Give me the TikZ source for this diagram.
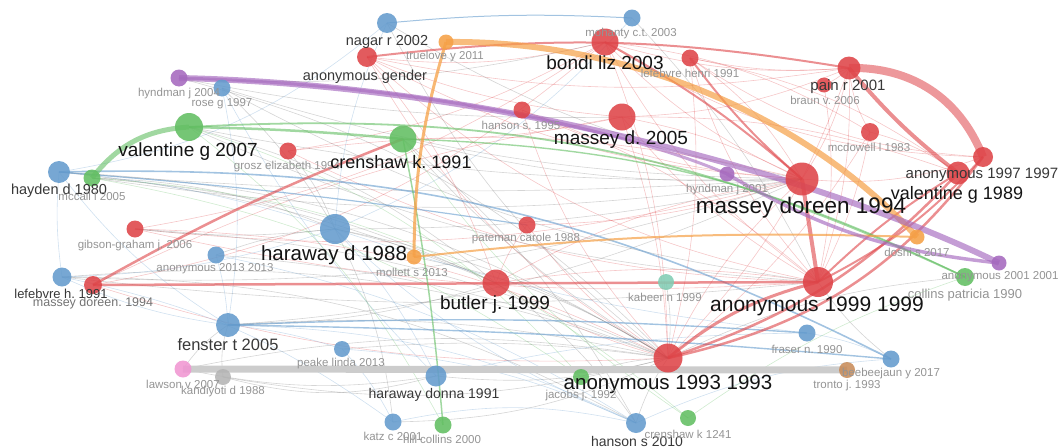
\documentclass[tikz,border=0pt]{standalone}
\usepackage{fontspec}
\setmainfont{Liberation Sans}
\frenchspacing
\definecolor{vred}{RGB}{222,68,72}
\definecolor{vblue}{RGB}{100,155,205}
\definecolor{vgreen}{RGB}{98,190,98}
\definecolor{vpurple}{RGB}{165,105,190}
\definecolor{vorange}{RGB}{245,160,70}
\definecolor{vteal}{RGB}{130,205,180}
\definecolor{vpink}{RGB}{240,150,210}
\definecolor{vgrey}{RGB}{180,180,180}
\definecolor{vbrown}{RGB}{200,140,90}
\pgfdeclarelayer{edges}
\pgfsetlayers{edges,main}
\begin{document}
\begin{tikzpicture}[x=1pt,y=-1pt,line cap=round,line join=round,
  vn/.style={circle,inner sep=0pt,fill=#1,fill opacity=.88,draw=none},
  big/.style={font=\fontsize{19}{21}\selectfont,text=black!92},
  mid/.style={font=\fontsize{14.5}{16}\selectfont,text=black!78},
  small/.style={font=\fontsize{11.5}{13}\selectfont,text=black!42},
  faint/.style={line width=.6pt,draw opacity=.3},
  link/.style={draw opacity=.6}]
\useasboundingbox (0,0) rectangle (1060,447);
% red cluster
\node[vn=vred,minimum size=20] (anongender) at (367,57) {};
\node[vn=vred,minimum size=27] (bondi03) at (605,42) {};
\node[vn=vred,minimum size=17] (lefebvreHe) at (690,58) {};
\node[vn=vred,minimum size=23] (pain01) at (849,68) {};
\node[vn=vred,minimum size=15] (braun06) at (824,85) {};
\node[vn=vred,minimum size=17] (hanson95) at (522,110) {};
\node[vn=vred,minimum size=27] (massey05) at (622,117) {};
\node[vn=vred,minimum size=18] (mcdowell83) at (870,132) {};
\node[vn=vred,minimum size=17] (grosz94) at (288,151) {};
\node[vn=vred,minimum size=33] (massey94) at (802,179) {};
\node[vn=vred,minimum size=20] (anon97) at (983,157) {};
\node[vn=vred,minimum size=23] (val89) at (958,173) {};
\node[vn=vred,minimum size=17] (pateman88) at (527,225) {};
\node[vn=vred,minimum size=17] (gibson06) at (135,229) {};
\node[vn=vred,minimum size=27] (butler99) at (496,283) {};
\node[vn=vred,minimum size=30] (anon99) at (818,282) {};
\node[vn=vred,minimum size=18] (masseyb94) at (93,285) {};
\node[vn=vred,minimum size=29] (anon93) at (668,358) {};
% blue cluster
\node[vn=vblue,minimum size=20] (nagar02) at (387,23) {};
\node[vn=vblue,minimum size=17] (mohanty03) at (632,18) {};
\node[vn=vblue,minimum size=17] (rose97) at (222,88) {};
\node[vn=vblue,minimum size=22] (hayden80) at (59,172) {};
\node[vn=vblue,minimum size=30] (haraway88) at (335,229) {};
\node[vn=vblue,minimum size=17] (anon13) at (216,255) {};
\node[vn=vblue,minimum size=19] (lefebvre91) at (62,277) {};
\node[vn=vblue,minimum size=24] (fenster05) at (228,325) {};
\node[vn=vblue,minimum size=16] (peake13) at (342,349) {};
\node[vn=vblue,minimum size=21] (haraway91) at (436,376) {};
\node[vn=vblue,minimum size=17] (katz01) at (393,422) {};
\node[vn=vblue,minimum size=20] (hanson10) at (636,423) {};
\node[vn=vblue,minimum size=17] (fraser90) at (807,333) {};
\node[vn=vblue,minimum size=17] (beebee17) at (891,359) {};
% green cluster
\node[vn=vgreen,minimum size=28] (valentine07) at (189,127) {};
\node[vn=vgreen,minimum size=27] (crenshaw91) at (403,139) {};
\node[vn=vgreen,minimum size=17] (mccall05) at (92,178) {};
\node[vn=vgreen,minimum size=18] (collins90) at (965,277) {};
\node[vn=vgreen,minimum size=16] (jacobs92) at (581,377) {};
\node[vn=vgreen,minimum size=17] (hillcollins00) at (443,425) {};
\node[vn=vgreen,minimum size=16] (crenshaw1241) at (688,418) {};
% small clusters
\node[vn=vpurple,minimum size=17] (hyndman04) at (179,78) {};
\node[vn=vpurple,minimum size=15] (hyndman01) at (727,174) {};
\node[vn=vpurple,minimum size=15] (anon01) at (999,263) {};
\node[vn=vorange,minimum size=15] (truelove11) at (446,42) {};
\node[vn=vorange,minimum size=15] (mollett13) at (414,257) {};
\node[vn=vorange,minimum size=15] (doshi17) at (917,237) {};
\node[vn=vteal,minimum size=16] (kabeer99) at (666,282) {};
\node[vn=vpink,minimum size=17] (lawson07) at (183,369) {};
\node[vn=vgrey,minimum size=16] (kandiyoti88) at (223,377) {};
\node[vn=vbrown,minimum size=16] (tronto93) at (847,370) {};
% labels
\node[small] (hyndman04-l) at (179,94) {hyndman j 2004};
\node[small] (rose97-l) at (222,104) {rose g 1997};
\node[big] (valentine07-l) at (188,152) {valentine g 2007};
\node[mid] (nagar02-l) at (387,42) {nagar r 2002};
\node[mid] (anongender-l) at (365,77) {anonymous gender};
\node[small] (truelove11-l) at (445,57) {truelove y 2011};
\node[small] (mohanty03-l) at (631,34) {mohanty c.t. 2003};
\node[big] (bondi03-l) at (605,63) {bondi liz 2003};
\node[small] (lefebvreHe-l) at (690,73) {lefebvre henri 1991};
\node[mid,font=\fontsize{15}{17}\selectfont] (pain01-l) at (848,87) {pain r 2001};
\node[small] (braun06-l) at (825,100) {braun v. 2006};
\node[small] (hanson95-l) at (521,125) {hanson s. 1995};
\node[big] (massey05-l) at (621,140) {massey d. 2005};
\node[small] (mcdowell83-l) at (869,147) {mcdowell l 1983};
\node[small] (grosz94-l) at (287,167) {grosz elizabeth 1994};
\node[big,font=\fontsize{18}{20}\selectfont] (crenshaw91-l) at (401,162) {crenshaw k. 1991};
\node[mid] (hayden80-l) at (59,191) {hayden d 1980};
\node[small] (mccall05-l) at (92,196) {mccall l 2005};
\node[small] (hyndman01-l) at (727,190) {hyndman j 2001};
\node[big,font=\fontsize{22.5}{25}\selectfont] (massey94-l) at (801,208) {massey doreen 1994};
\node[mid,font=\fontsize{15}{17}\selectfont] (anon97-l) at (982,175) {anonymous 1997 1997};
\node[big,font=\fontsize{18}{20}\selectfont] (val89-l) at (957,195) {valentine g 1989};
\node[small] (pateman88-l) at (526,239) {pateman carole 1988};
\node[small] (gibson06-l) at (135,246) {gibson-graham j. 2006};
\node[big,font=\fontsize{20.5}{23}\selectfont] (haraway88-l) at (334,255) {haraway d 1988};
\node[small] (anon13-l) at (215,269) {anonymous 2013 2013};
\node[small] (mollett13-l) at (412,272) {mollett s 2013};
\node[small] (doshi17-l) at (917,252) {doshi s 2017};
\node[small] (anon01-l) at (1000,277) {anonymous 2001 2001};
\node[small,font=\fontsize{13}{15}\selectfont] (collins90-l) at (965,295) {collins patricia 1990};
\node[small] (kabeer99-l) at (665,297) {kabeer n 1999};
\node[big] (butler99-l) at (495,305) {butler j. 1999};
\node[big,font=\fontsize{21}{23}\selectfont] (anon99-l) at (817,306) {anonymous 1999 1999};
\node[mid,font=\fontsize{13}{15}\selectfont] (lefebvre91-l) at (61,294) {lefebvre h. 1991};
\node[small,font=\fontsize{12.5}{14}\selectfont,text=black!55] (masseyb94-l) at (93,303) {massey doreen. 1994};
\node[mid,font=\fontsize{16.5}{18}\selectfont] (fenster05-l) at (228,345) {fenster t 2005};
\node[small] (peake13-l) at (341,364) {peake linda 2013};
\node[small] (lawson07-l) at (183,384) {lawson v 2007};
\node[small] (kandiyoti88-l) at (223,392) {kandiyoti d 1988};
\node[mid,font=\fontsize{14}{16}\selectfont] (haraway91-l) at (434,395) {haraway donna 1991};
\node[big,font=\fontsize{20.5}{23}\selectfont] (anon93-l) at (668,384) {anonymous 1993 1993};
\node[small] (jacobs92-l) at (581,396) {jacobs j. 1992};
\node[small] (fraser90-l) at (807,349) {fraser n. 1990};
\node[small] (beebee17-l) at (891,374) {beebeejaun y 2017};
\node[small] (tronto93-l) at (847,386) {tronto j. 1993};
\node[small] (katz01-l) at (393,436) {katz c 2001};
\node[small] (hillcollins00-l) at (442,439) {hill collins 2000};
\node[mid,font=\fontsize{14}{16}\selectfont] (hanson10-l) at (637,441) {hanson s 2010};
\node[small] (crenshaw1241-l) at (688,434) {crenshaw k 1241};
\begin{pgfonlayer}{edges}
% faint links
\foreach \a/\b/\c in {anon93/bondi03/-10,anon93/massey05/-8,anon93/massey94/10,anon93/butler99/8,
  anon93/pain01/-12,anon93/lefebvreHe/-10,anon93/hanson95/12,anon93/pateman88/10,anon93/mcdowell83/-10,
  anon93/gibson06/-12,anon93/anongender/15,anon99/bondi03/12,anon99/massey05/10,anon99/pain01/-10,
  anon99/butler99/-8,anon99/lefebvreHe/12,anon99/mcdowell83/-8,anon99/braun06/-10,anon99/anongender/15,
  massey94/bondi03/10,massey94/massey05/-8,massey94/pain01/-10,massey94/anon97/-12,massey94/hanson95/10,
  massey94/butler99/-10,massey94/anongender/12,bondi03/pain01/-10,bondi03/anon97/-15,bondi03/mcdowell83/12,
  bondi03/anongender/10,lefebvreHe/pain01/-8,lefebvreHe/anon97/-15,lefebvreHe/val89/12,pain01/braun06/10,
  pain01/mcdowell83/-12,massey05/pain01/-10,massey05/val89/10,anongender/massey05/-8,anongender/pain01/-10,
  gibson06/massey94/-10,grosz94/anon99/-12,butler99/pateman88/8,masseyb94/anon93/-10,masseyb94/bondi03/-15,
  anongender/butler99/10,hanson95/anon99/10,mcdowell83/val89/10,grosz94/massey94/10,gibson06/anon99/-8,
  lefebvreHe/massey94/12,pateman88/massey94/-8,grosz94/bondi03/-10,crenshaw91/massey05/-6,
  masseyb94/massey05/8,gibson06/bondi03/-12}
  \draw[faint,vred] (\a.center) to[bend left=\c] (\b.center);
\foreach \a/\b/\c in {valentine07/massey94/-6,valentine07/anon99/-10,crenshaw91/massey94/-8,haraway88/anon93/10,
  haraway88/massey94/-6,haraway88/butler99/6,hayden80/massey94/-4,rose97/haraway88/8,hyndman04/massey05/-6,
  fenster05/anon93/8,lefebvre91/massey94/-10,lefebvre91/anon99/-6,haraway91/anon93/-10,hanson10/anon93/8,
  hanson10/butler99/-10,katz01/anon93/-12,jacobs92/anon93/10,kabeer99/anon93/8,collins90/anon93/-10,
  beebee17/anon99/8,lawson07/fenster05/10,kandiyoti88/haraway91/-15,peake13/anon93/6,mollett13/anon93/10,
  anon13/haraway88/8,gibson06/haraway88/-6,mccall05/haraway88/10,valentine07/butler99/12,crenshaw91/anon93/-8,
  crenshaw91/hanson10/10,nagar02/anon93/-12,mohanty03/anon99/8,hayden80/anon93/14,rose97/anon99/-10,
  mccall05/massey94/-8,kandiyoti88/anon93/-12,lawson07/haraway91/-10,hyndman04/anon93/15,
  lefebvre91/anon93/12,hayden80/butler99/8,fenster05/massey94/-10,lawson07/anon93/10,kandiyoti88/fenster05/12,
  gibson06/anon93/10,anon13/anon93/8,katz01/haraway88/-10,mccall05/butler99/10,rose97/massey94/-8,
  hyndman04/bondi03/-8,nagar02/massey94/-10,grosz94/haraway88/10,lefebvre91/hanson10/14,fenster05/butler99/-8}
  \draw[faint,black!55] (\a.center) to[bend left=\c] (\b.center);
\foreach \a/\b/\c in {hayden80/lefebvre91/-6,hayden80/fenster05/-10,rose97/fenster05/10,rose97/haraway91/-8,
  lefebvre91/fenster05/-8,lefebvre91/katz01/12,haraway88/haraway91/8,haraway88/hanson10/-10,fenster05/peake13/6,
  fenster05/hanson10/12,peake13/hanson10/10,katz01/peake13/-8,anon13/fenster05/6,anon13/hanson10/10,
  nagar02/haraway88/-10,mohanty03/haraway88/12,hanson10/beebee17/10,fraser90/beebee17/8,haraway91/fraser90/6,
  haraway88/fraser90/-6,lefebvre91/haraway88/-8,hayden80/haraway88/6,katz01/hanson10/12,nagar02/hayden80/15}
  \draw[faint,vblue] (\a.center) to[bend left=\c] (\b.center);
\foreach \a/\b/\c in {mccall05/crenshaw1241/18,crenshaw1241/collins90/8,valentine07/jacobs92/15,
  crenshaw91/crenshaw1241/-10,mccall05/jacobs92/12,valentine07/hillcollins00/12}
  \draw[faint,vgreen] (\a.center) to[bend left=\c] (\b.center);
% strong links
\draw[link,vblue,line width=1] (nagar02.center) to[bend left=4] (mohanty03.center);
\draw[link,vblue,line width=1.6] (hayden80.center) to[bend left=14] (beebee17.center);
\draw[link,vblue,line width=1.4] (fenster05.center) to[bend left=3] (fraser90.center);
\draw[link,vblue,line width=1.4] (fenster05.center) to[bend left=2] (beebee17.center);
\draw[link,vblue,line width=1.2] (hayden80.center) to[bend left=2] (pateman88.center);
\draw[black!20,line width=7] (lawson07.center) -- (tronto93.center);
\draw[link,vred,line width=2.5] (masseyb94.center) -- (anon99.center);
\draw[link,vred,line width=2.5] (masseyb94.center) to[bend left=4] (crenshaw91.center);
\draw[link,vred,line width=2] (bondi03.center) to[bend left=6] (massey94.center);
\draw[link,vred,line width=2] (lefebvreHe.center) to[bend right=6] (massey94.center);
\draw[link,vred,line width=2] (anongender.center) to[bend left=8] (pain01.center);
\draw[link,vred,line width=4] (massey94.center) -- (anon99.center);
\draw[link,vred,line width=3] (anon93.center) to[bend left=12] (anon99.center);
\draw[link,vred,line width=2.5] (anon93.center) to[bend right=20] (anon97.center);
\draw[link,vred,line width=2.5] (anon93.center) to[bend right=14] (val89.center);
\draw[link,vred,line width=2] (anon99.center) to[bend right=10] (anon97.center);
\draw[link,vred,line width=2] (anon99.center) to[bend left=6] (val89.center);
\draw[link,vred,line width=4] (pain01.center) to[bend right=6] (val89.center);
\draw[vred,draw opacity=.55,line width=8] (pain01.center) to[bend left=35] (anon97.center);
\draw[link,vgreen,line width=5] (valentine07.center) to[bend right=24] (mccall05.center);
\draw[link,vgreen,line width=2.5] (valentine07.center) to[bend left=2] (crenshaw91.center);
\draw[link,vgreen,line width=1.8] (valentine07.center) to[bend left=14] (collins90.center);
\draw[link,vgreen,line width=1.4] (crenshaw91.center) to[bend left=12] (collins90.center);
\draw[link,vgreen,line width=1.5] (crenshaw91.center) to[bend left=3] (hillcollins00.center);
\draw[vorange,draw opacity=.7,line width=6] (truelove11.center) .. controls (620,40) and (800,110) .. (doshi17.center);
\draw[vorange,draw opacity=.75,line width=3] (truelove11.center) to[bend right=8] (mollett13.center);
\draw[vorange,draw opacity=.7,line width=2] (mollett13.center) to[bend left=4] (doshi17.center);
\draw[vpurple,draw opacity=.65,line width=6] (hyndman04.center) .. controls (500,85) and (830,180) .. (anon01.center);
\draw[vpurple,draw opacity=.6,line width=3] (hyndman04.center) .. controls (450,85) and (650,140) .. (hyndman01.center);
\draw[vpurple,draw opacity=.65,line width=3.5] (hyndman01.center) to[bend right=12] (anon01.center);
\end{pgfonlayer}
\end{tikzpicture}
\end{document}
